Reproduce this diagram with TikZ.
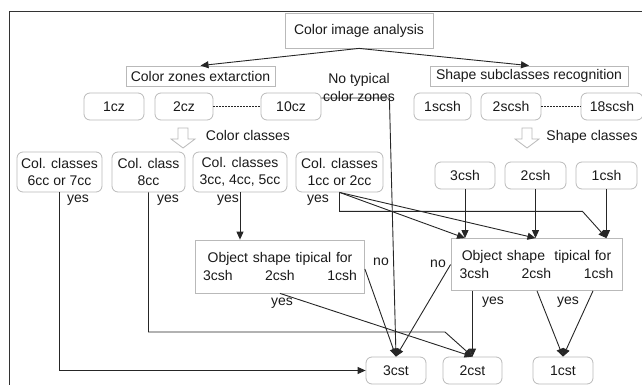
\documentclass[tikz,border=0pt]{standalone}
\usepackage{fontspec}
\setmainfont{Liberation Sans}
\usetikzlibrary{arrows.meta}

\begin{document}
\begin{tikzpicture}[x=1pt, y=-1pt, line width=0.9pt,
	every node/.style={font=\fontsize{14}{17.5}\selectfont, text=black!90, inner sep=2pt},
	box/.style={draw=gray!55, line width=0.8pt, align=center},
	rbox/.style={box, rounded corners=6pt, minimum height=27},
	objbox/.style={box, text width=154, inner xsep=7.5pt, minimum height=53},
	hollow/.style={draw=gray!55, line width=0.8pt, fill=white},
	link/.style={draw=black!85, ->},
	>={Triangle[length=8pt,width=7pt]}]
	\useasboundingbox (0,0) rectangle (642,385);
	\draw[black!80] (642,11) -- (9,11) -- (9,385);

	% analysis and the two branches
	\node[box, minimum width=148, minimum height=35] (cia) at (359,30.5) {Color image analysis};
	\node[box, minimum width=149, minimum height=20, inner ysep=1pt] (cze) at (200.5,76) {Color zones extarction};
	\node[box, minimum width=198, minimum height=20, inner ysep=1pt] (ssr) at (529,76) {Shape subclasses recognition};
	\node[align=center] (notyp) at (359,87.5) {No typical\\color zones};

	% zones and subclasses
	\node[rbox, minimum width=60] (cz1) at (114,106.5) {1cz};
	\node[rbox, minimum width=58] (cz2) at (184,106.5) {2cz};
	\node[rbox, minimum width=60] (cz10) at (291,106.5) {10cz};
	\node[rbox, minimum width=57] (sc1) at (442.5,106.5) {1scsh};
	\node[rbox, minimum width=60] (sc2) at (511,106.5) {2scsh};
	\node[rbox, minimum width=62] (sc18) at (612,106.5) {18scsh};
	\draw[black!85, line width=1.6pt, dash pattern=on 2pt off 1pt] (cz2) -- (cz10);
	\draw[black!85, line width=1.6pt, dash pattern=on 2pt off 1pt] (sc2) -- (sc18);

	% class arrows
	\foreach \ax in {183,527}
		\draw[hollow, shift={(\ax,128)}] (-5,0) -- (5,0) -- (5,11) -- (12,11) -- (0,20) -- (-12,11) -- (-5,11) -- cycle;
	\node (ccl) at (248,135) {Color classes};
	\node (scl) at (592,137) {Shape classes};

	\node[rbox, minimum width=85, minimum height=40] (cc67) at (59.5,172) {Col. classes\\6cc or 7cc};
	\node[rbox, minimum width=73, minimum height=40] (cc8) at (148.5,172) {Col. class\\8cc};
	\node[rbox, minimum width=94, minimum height=40] (cc345) at (240,172) {Col. classes\\3cc, 4cc, 5cc};
	\node[rbox, minimum width=87, minimum height=40] (cc12) at (339.5,172) {Col. classes\\1cc or 2cc};
	\node[rbox, minimum width=60] (sh3) at (465,175.5) {3csh};
	\node[rbox, minimum width=61] (sh2) at (535.5,175.5) {2csh};
	\node[rbox, minimum width=61] (sh1) at (606.5,175.5) {1csh};

	% shape checks
	\node[objbox] (osl) at (280,266.5) {Object shape tipical for\\3csh\hfill 2csh\hfill 1csh};
	\node[objbox, inner xsep=8.5pt, minimum height=52] (osr) at (536.5,264.5) {Object shape~ tipical for\\3csh\hfill 2csh\hfill 1csh};

	% resulting types
	\node[rbox, minimum width=60] (st3) at (396,370.5) {3cst};
	\node[rbox, minimum width=59] (st2) at (472.5,370.5) {2cst};
	\node[rbox, minimum width=60] (st1) at (563,370.5) {1cst};

	% connectors
	\draw[link] (cia.south) -- (cze.north);
	\draw[link] (cia.south) -- (ssr.north);
	\draw[link] ([yshift=8.5pt]cz10.east) -- ++(68,0) -- (st3.north);
	\draw[link] (cc67.south) |- (st3.west);
	\draw[link] (cc8.south) |- (445,332) -- (st2.north);
	\draw[link] (cc345.south) -- (cc345.south |- osl.north);
	\draw[link] (cc12.south) -- (sh3.south |- osr.north);
	\draw[link] (cc12.south) -- (sh2.south |- osr.north);
	\draw[link] (cc12.south) -- ++(0,19) -- ++(243,0) -- (sh1.south |- osr.north);
	\foreach \s in {sh3,sh2,sh1}
		\draw[link] (\s.south) -- (\s.south |- osr.north);
	\draw[link] ([yshift=-2.5pt]osl.east) -- (st3.north);
	\draw[link] (osl.south) -- (st2.north);
	\draw[link] (osr.west) -- (st3.north);
	\draw[link] (st2.north |- osr.south) -- (st2.north);
	\draw[link] ([xshift=0.5pt]osr.south) -- (st1.north);
	\draw[link] ([xshift=56.5pt]osr.south) -- (st1.north);

	% answers
	\node (y67) at (78,200) {yes};
	\node (y8) at (168,200) {yes};
	\node (y345) at (228,200) {yes};
	\node (y12) at (318,200) {yes};
	\node (yosl) at (282,303) {yes};
	\node (nosl) at (381,262) {no};
	\node (nosr) at (438,264) {no};
	\node (yosr2) at (493,302) {yes};
	\node (yosr1) at (568,302) {yes};
\end{tikzpicture}
\end{document}
